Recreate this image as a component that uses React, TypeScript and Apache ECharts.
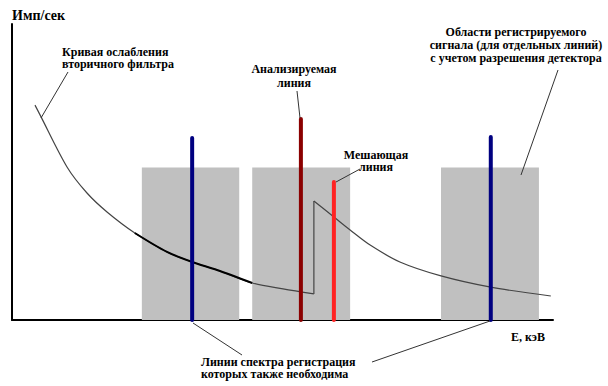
import React, { useEffect, useRef } from "react";
import * as echarts from "echarts";

// Attenuation curve of the secondary filter (energy, counts) before the absorption edge
const curveBefore: number[][] = [
  [4.25, 72.6], [5.18, 69.3], [10.17, 51.7], [13.86, 42.9], [17.56, 36.5],
  [22.7, 29.4], [28.65, 23.0], [33.3, 19.6], [37.9, 16.9], [44.4, 12.5],
  [50.1, 10.5], [55.8, 8.8],
];
// Part of the curve drawn bold (inside first region)
const curveBold: number[][] = [
  [22.7, 29.4], [28.65, 23.0], [33.3, 19.6], [37.9, 16.9], [44.4, 12.5],
];
// Absorption edge jump
const curveJump: number[][] = [[55.8, 8.8], [55.8, 40.2]];
// Curve after the edge
const curveAfter: number[][] = [
  [55.8, 40.2], [59.5, 34.8], [62.5, 30.4], [66.2, 25.3], [71.7, 19.6],
  [79.3, 14.9], [88.5, 11.1], [99.6, 8.1],
];
// Registration regions (energy from, to) and their height
const regionStart = [24.0, 44.4, 79.3];
const regionEnd = [42.0, 62.5, 97.4];
const regionTop = 51.5;
// Spectral lines
const lineNames = ["Линия 1", "Анализируемая линия", "Мешающая линия", "Линия 2"];
const lineEnergy = [33.3, 53.4, 59.5, 88.5];
const lineHeight = [61.5, 67.9, 46.6, 61.8];

const lineColors = ["#000080", "#8B0000", "#FF2222", "#000080"];

const FONT = "Liberation Serif";

export default function App() {
  const ref = useRef<HTMLDivElement>(null);
  useEffect(() => {
    document.body.style.margin = "0";
    const chart = echarts.init(ref.current!, null, { renderer: "svg" });
    const txt = (text: string, x: number, y: number, size = 12, align = "center", lh = 13) => ({
      type: "text",
      z: 100,
      style: {
        text,
        x,
        y,
        fill: "#000",
        fontFamily: FONT,
        fontSize: size,
        fontWeight: "bold",
        align,
        verticalAlign: "middle",
        lineHeight: lh,
      },
    });
    const ln = (x1: number, y1: number, x2: number, y2: number) => ({
      type: "line",
      z: 100,
      shape: { x1, y1, x2, y2 },
      style: { stroke: "#333", lineWidth: 1 },
    });
    const curveStyle = { color: "#444", width: 1.2 };
    const option: any = {
      animation: false,
      grid: { left: 12, top: 24, right: 55, bottom: 66 },
      xAxis: {
        type: "value",
        min: 0,
        max: 100,
        axisLine: { show: true, lineStyle: { color: "#000", width: 2 } },
        axisTick: { show: false },
        axisLabel: { show: false },
        splitLine: { show: false },
      },
      yAxis: {
        type: "value",
        min: 0,
        max: 100,
        axisLine: { show: true, lineStyle: { color: "#000", width: 2 } },
        axisTick: { show: false },
        axisLabel: { show: false },
        splitLine: { show: false },
      },
      series: [
        {
          type: "line",
          name: "regions",
          data: [],
          silent: true,
          markArea: {
            silent: true,
            itemStyle: { color: "#C0C0C0" },
            data: regionStart.map((s, i) => [
              { xAxis: s, yAxis: 0 },
              { xAxis: regionEnd[i], yAxis: regionTop },
            ]),
          },
          z: 1,
        },
        {
          type: "line",
          data: curveBefore,
          smooth: 0.3,
          symbol: "none",
          lineStyle: curveStyle,
          z: 2,
        },
        {
          type: "line",
          data: curveBold,
          smooth: 0.3,
          symbol: "none",
          lineStyle: { color: "#000", width: 2 },
          z: 3,
        },
        {
          type: "line",
          data: curveJump,
          symbol: "none",
          lineStyle: curveStyle,
          z: 2,
        },
        {
          type: "line",
          data: curveAfter,
          smooth: 0.3,
          symbol: "none",
          lineStyle: curveStyle,
          z: 2,
        },
        ...lineEnergy.map((e, i) => ({
          type: "line",
          name: lineNames[i],
          data: [[e, 0], [e, lineHeight[i]]],
          symbol: "none",
          lineStyle: { color: lineColors[i], width: 4, cap: "round" },
          z: 5,
        })),
      ],
      graphic: [
        txt("Имп/сек", 12, 15, 14, "left"),
        txt("Кривая ослабления\nвторичного фильтра", 62, 58, 12, "left", 12),
        txt("Анализируемая\nлиния", 294, 76, 12, "center", 14),
        txt("Мешающая\nлиния", 376, 161, 12, "center", 12),
        txt("Области регистрируемого\nсигнала (для отдельных линий)\nс учетом разрешения детектора", 516, 45),
        txt("Е, кэВ", 511, 337, 12, "left"),
        txt("Линии спектра регистрация\nкоторых также необходима", 201, 368, 12, "left", 12),
        ln(68, 72, 41, 118),
        ln(297, 91, 300, 118),
        ln(360, 169, 336, 182),
        ln(558, 70, 521, 175),
        ln(193, 323, 242, 355),
        ln(372, 362, 490, 321),
      ],
    };
    chart.setOption(option);
    return () => chart.dispose();
  }, []);
  return <div ref={ref} style={{ width: 608, height: 386 }} />;
}
